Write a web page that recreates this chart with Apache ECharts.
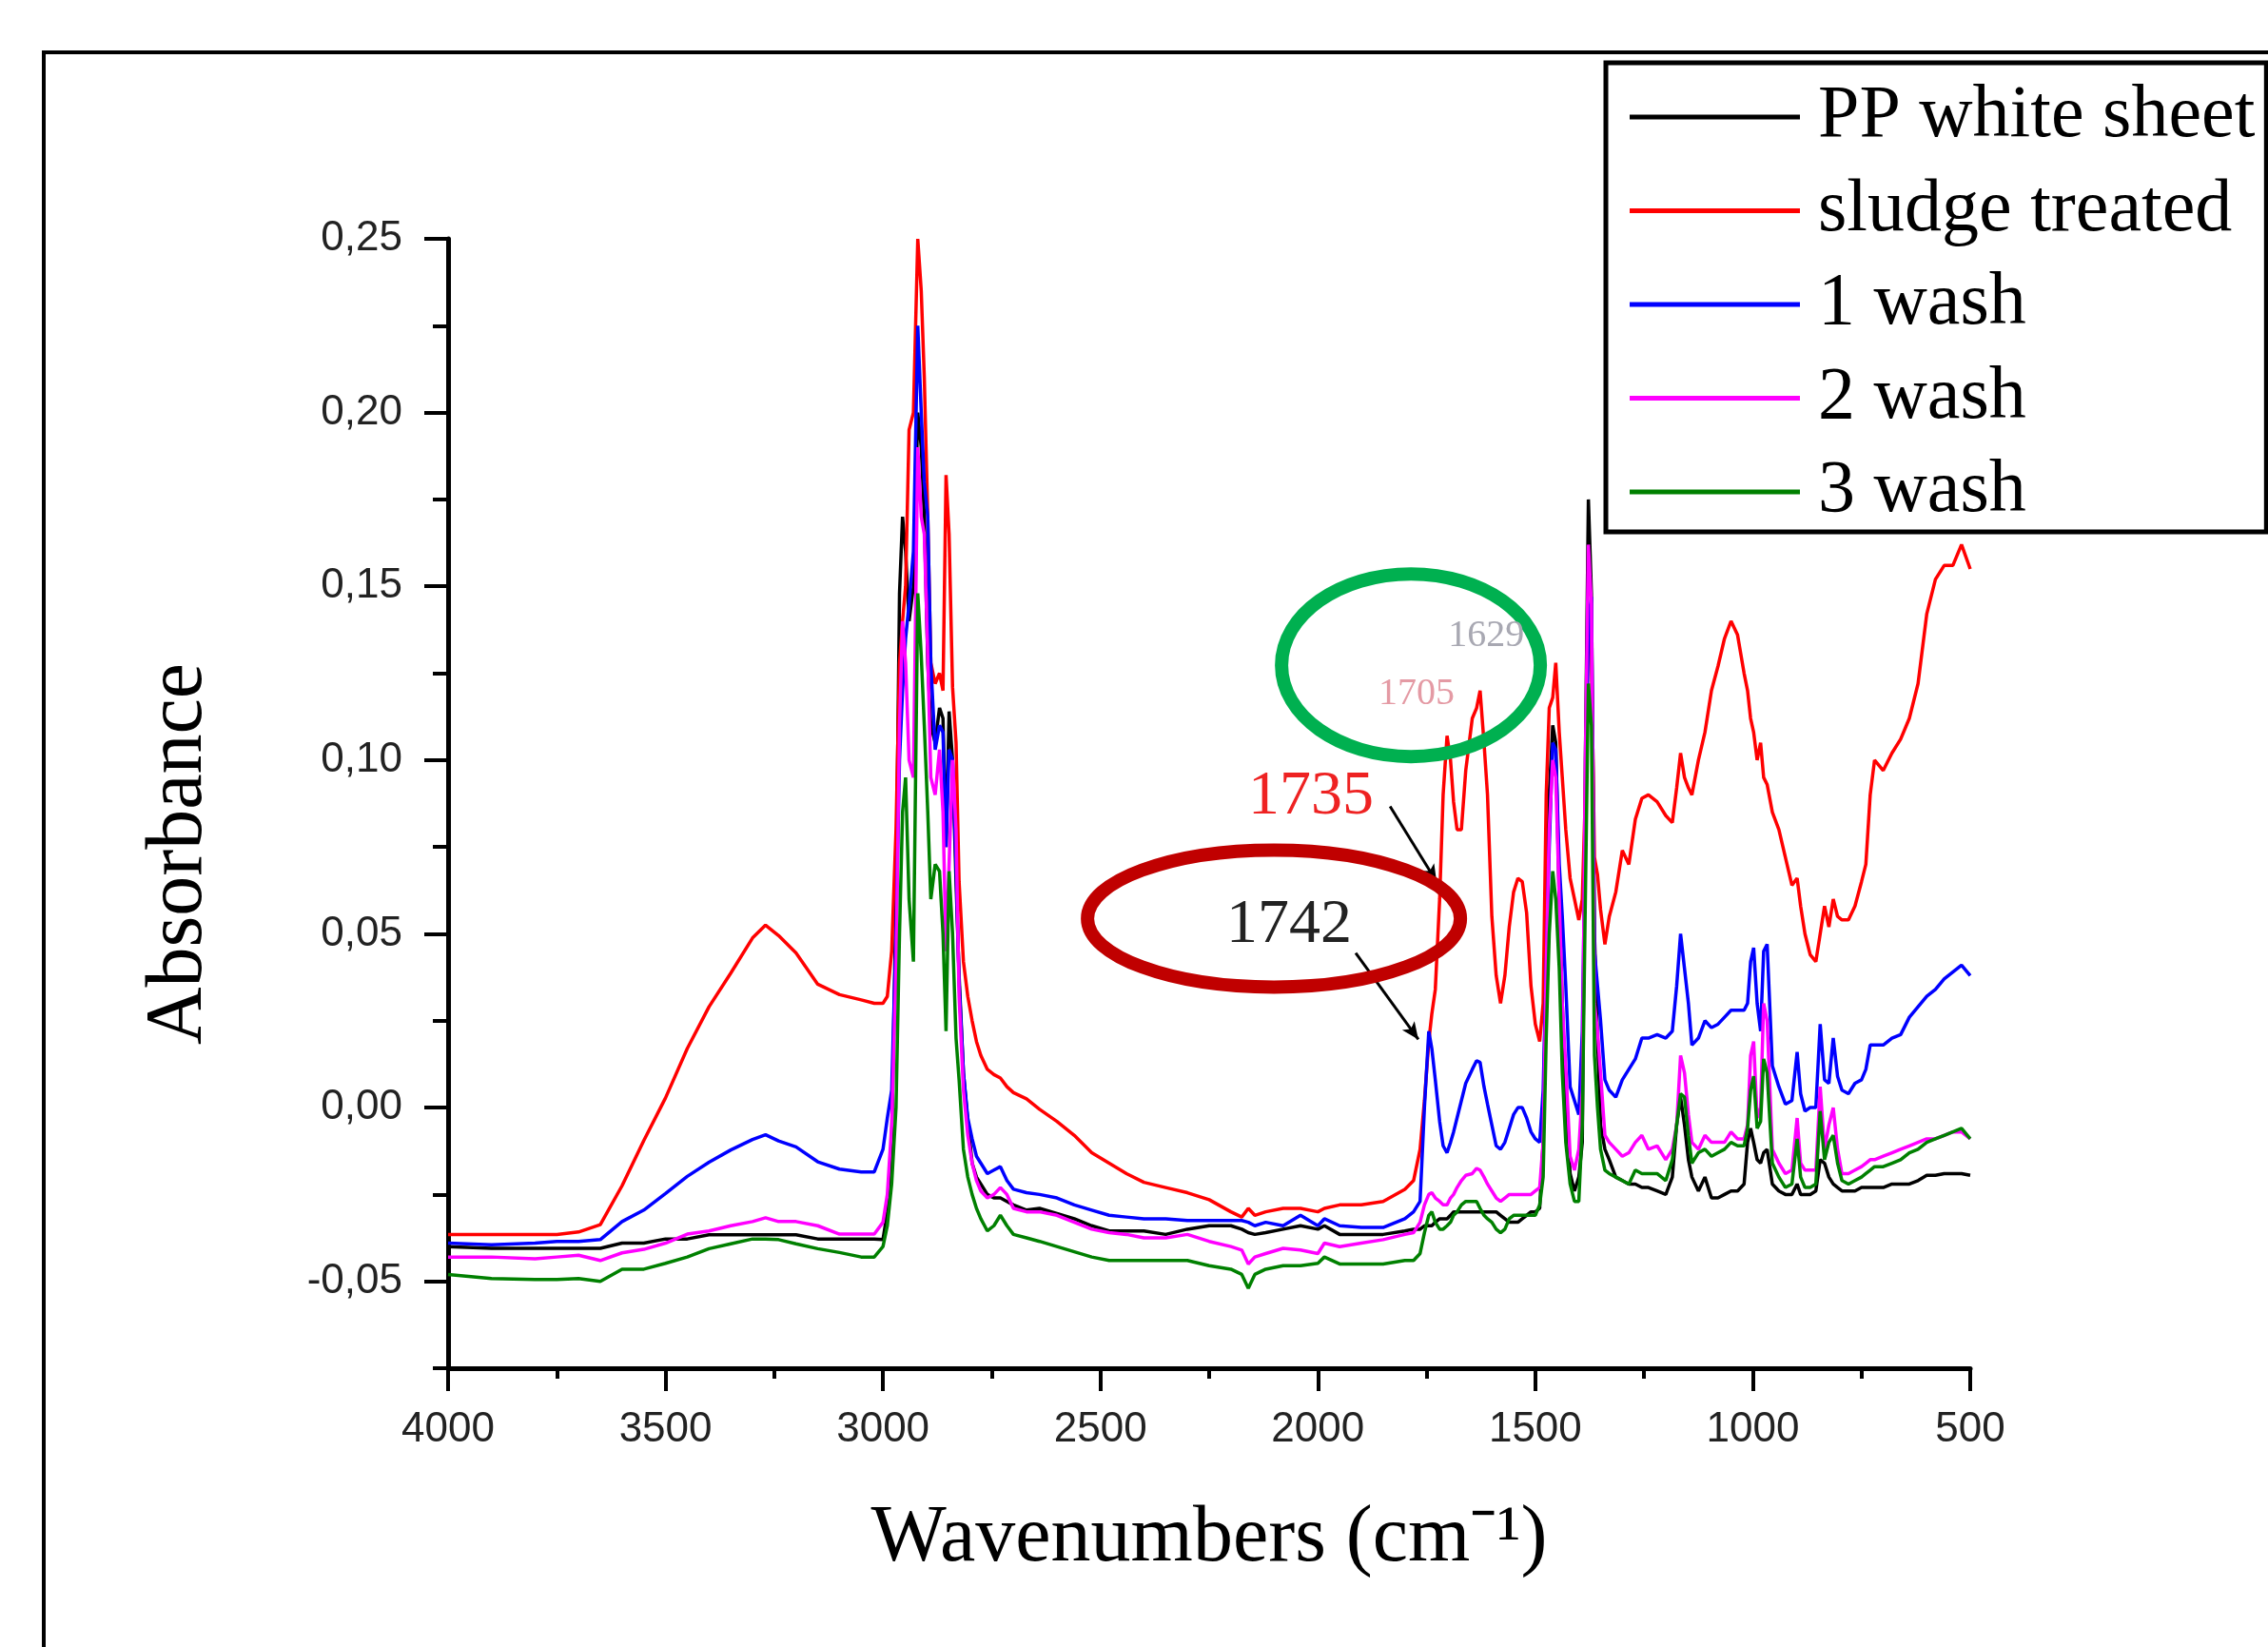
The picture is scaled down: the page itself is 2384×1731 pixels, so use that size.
<!DOCTYPE html>
<html>
<head>
<meta charset="utf-8">
<title>FTIR spectra</title>
<script src="https://cdn.jsdelivr.net/npm/echarts@6/dist/echarts.min.js"></script>
<style>
  html, body { margin: 0; padding: 0; background: #fff; }
  #main { width: 2384px; height: 1731px; }
</style>
</head>
<body>
<div id="main"></div>
<script>
// wavenumber grid (cm-1), shared by the five spectra
var wavenumbers = [
  4000, 3900, 3800, 3750, 3700, 3650, 3600, 3550, 3500, 3450, 3400, 3350, 3300, 3270, 3240, 3200, 3150, 3100, 3050, 3020,
  3000, 2990, 2980, 2970, 2962, 2955, 2948, 2940, 2930, 2920, 2912, 2905, 2897, 2890, 2880, 2870, 2862, 2855, 2848, 2840, 2832, 2825, 2815, 2805, 2795, 2785, 2775, 2760,
  2745, 2730, 2715, 2700, 2670, 2640, 2600, 2560, 2520, 2480, 2440, 2400, 2350, 2300, 2250, 2200, 2175, 2160, 2145, 2120, 2080, 2040, 2000, 1985, 1950, 1900, 1850, 1800,
  1780, 1765, 1755, 1745, 1738, 1730, 1720, 1712, 1703, 1695, 1688, 1680, 1670, 1660, 1645, 1635, 1627, 1618, 1610, 1600, 1590,
  1580, 1570, 1560, 1550, 1540, 1530, 1520, 1510, 1500, 1490, 1482, 1475, 1468, 1460, 1453, 1445, 1438, 1430, 1420, 1410, 1400,
  1392, 1385, 1378, 1371, 1364, 1357, 1350, 1340, 1330, 1315, 1300,
  1285, 1270, 1255, 1240, 1220, 1200, 1185, 1175, 1166, 1157,
  1148, 1140, 1125, 1110, 1095, 1080, 1065, 1050, 1035, 1020,
  1012, 1005, 998, 990, 982, 975, 967, 955, 940, 925,
  910, 898, 890, 880, 868, 855, 845, 835, 825, 815,
  805, 795, 780, 765, 750, 740, 730, 720, 700, 680,
  660, 640, 620, 600, 580, 560, 540, 520, 500
];

var ppWhiteSheet = [
  -0.040, -0.0405, -0.0405, -0.0405, -0.0405, -0.0405, -0.039, -0.039, -0.0378, -0.0378, -0.0366, -0.0366, -0.0366, -0.0366, -0.0366, -0.0366, -0.0378, -0.0378, -0.0378, -0.0378,
  -0.038, -0.030, -0.010, 0.060, 0.148, 0.170, 0.160, 0.140, 0.150, 0.200, 0.190, 0.170, 0.128, 0.110, 0.105, 0.115, 0.112, 0.075, 0.114, 0.100, 0.065, 0.038, 0.010, -0.004, -0.016, -0.020, -0.022, -0.025,
  -0.026, -0.026, -0.027, -0.028, -0.0295, -0.029, -0.0305, -0.032, -0.034, -0.0355, -0.0355, -0.0355, -0.0365, -0.035, -0.034, -0.034, -0.035, -0.036, -0.0365, -0.036, -0.035, -0.034, -0.035, -0.034, -0.0365, -0.0365, -0.0365, -0.0355,
  -0.035, -0.035, -0.034, -0.034, -0.034, -0.033, -0.032, -0.032, -0.032, -0.031, -0.030, -0.030, -0.030, -0.030, -0.030, -0.030, -0.030, -0.030, -0.030, -0.030, -0.030,
  -0.031, -0.032, -0.033, -0.033, -0.033, -0.032, -0.031, -0.030, -0.030, -0.029, -0.010, 0.050, 0.090, 0.110, 0.105, 0.060, 0.030, 0.000, -0.019, -0.024, -0.020,
  -0.010, 0.100, 0.175, 0.148, 0.050, 0.020, -0.005, -0.012, -0.015, -0.020, -0.021,
  -0.022, -0.022, -0.023, -0.023, -0.024, -0.025, -0.020, -0.005, 0.003, -0.005,
  -0.015, -0.020, -0.024, -0.020, -0.026, -0.026, -0.025, -0.024, -0.024, -0.022,
  -0.010, -0.006, -0.010, -0.015, -0.016, -0.013, -0.012, -0.022, -0.024, -0.025,
  -0.025, -0.022, -0.025, -0.025, -0.025, -0.024, -0.015, -0.016, -0.020, -0.022,
  -0.023, -0.024, -0.024, -0.024, -0.023, -0.023, -0.023, -0.023, -0.023, -0.022,
  -0.022, -0.022, -0.021, -0.0195, -0.0195, -0.019, -0.019, -0.019, -0.0195
];

var sludgeTreated = [
  -0.0365, -0.0365, -0.0365, -0.0365, -0.0358, -0.0337, -0.0225, -0.0095, 0.0028, 0.017, 0.029, 0.0387, 0.0488, 0.0525, 0.0495, 0.0445, 0.0355, 0.0325, 0.031, 0.030,
  0.030, 0.032, 0.045, 0.080, 0.128, 0.140, 0.150, 0.195, 0.200, 0.250, 0.235, 0.210, 0.170, 0.128, 0.122, 0.125, 0.120, 0.182, 0.165, 0.121, 0.105, 0.065, 0.042, 0.032, 0.025, 0.019, 0.015, 0.011,
  0.0095, 0.0085, 0.006, 0.0043, 0.0025, -0.0005, -0.004, -0.008, -0.013, -0.016, -0.019, -0.0215, -0.023, -0.0245, -0.0265, -0.030, -0.0315, -0.029, -0.031, -0.030, -0.029, -0.029, -0.030, -0.029, -0.028, -0.028, -0.027, -0.0235,
  -0.021, -0.012, 0.002, 0.019, 0.027, 0.034, 0.060, 0.090, 0.107, 0.100, 0.088, 0.080, 0.080, 0.097, 0.112, 0.115, 0.120, 0.105, 0.090, 0.055, 0.038,
  0.030, 0.038, 0.052, 0.062, 0.066, 0.065, 0.056, 0.035, 0.024, 0.019, 0.030, 0.090, 0.115, 0.118, 0.128, 0.108, 0.095, 0.080, 0.066, 0.060, 0.054,
  0.060, 0.090, 0.140, 0.130, 0.072, 0.067, 0.057, 0.047, 0.055, 0.062, 0.074,
  0.070, 0.083, 0.089, 0.090, 0.088, 0.084, 0.082, 0.092, 0.102, 0.095,
  0.092, 0.090, 0.100, 0.108, 0.120, 0.127, 0.135, 0.140, 0.136, 0.125,
  0.120, 0.112, 0.108, 0.100, 0.105, 0.095, 0.093, 0.085, 0.080, 0.072,
  0.064, 0.066, 0.058, 0.050, 0.044, 0.042, 0.050, 0.058, 0.052, 0.060,
  0.055, 0.054, 0.054, 0.058, 0.065, 0.070, 0.090, 0.100, 0.097, 0.102,
  0.106, 0.112, 0.122, 0.142, 0.152, 0.156, 0.156, 0.162, 0.155
];

var wash1 = [
  -0.039, -0.0395, -0.039, -0.0385, -0.0385, -0.038, -0.0328, -0.0295, -0.0247, -0.0198, -0.0157, -0.0122, -0.0092, -0.0078, -0.0096, -0.0113, -0.0156, -0.0177, -0.0185, -0.0185,
  -0.012, -0.003, 0.005, 0.050, 0.100, 0.120, 0.135, 0.145, 0.160, 0.225, 0.200, 0.180, 0.170, 0.128, 0.103, 0.110, 0.108, 0.075, 0.103, 0.100, 0.070, 0.036, 0.010, -0.003, -0.009, -0.014, -0.016, -0.019,
  -0.018, -0.017, -0.021, -0.0235, -0.0245, -0.025, -0.026, -0.028, -0.0295, -0.031, -0.0315, -0.032, -0.032, -0.0325, -0.0325, -0.0325, -0.0325, -0.033, -0.034, -0.033, -0.034, -0.031, -0.034, -0.032, -0.034, -0.0345, -0.0345, -0.032,
  -0.030, -0.027, 0.000, 0.022, 0.017, 0.008, -0.004, -0.011, -0.013, -0.010, -0.007, -0.003, 0.002, 0.007, 0.011, 0.0135, 0.013, 0.006, 0.001, -0.005, -0.011,
  -0.012, -0.010, -0.006, -0.002, 0.000, 0.000, -0.003, -0.007, -0.009, -0.010, 0.005, 0.040, 0.075, 0.105, 0.103, 0.070, 0.055, 0.035, 0.006, 0.002, -0.002,
  0.022, 0.080, 0.140, 0.147, 0.045, 0.035, 0.025, 0.008, 0.005, 0.003, 0.008,
  0.011, 0.014, 0.020, 0.020, 0.021, 0.020, 0.022, 0.035, 0.050, 0.040,
  0.030, 0.018, 0.020, 0.025, 0.023, 0.024, 0.026, 0.028, 0.028, 0.028,
  0.030, 0.042, 0.046, 0.030, 0.022, 0.045, 0.047, 0.012, 0.006, 0.001,
  0.002, 0.016, 0.004, -0.001, 0.000, 0.000, 0.024, 0.008, 0.007, 0.020,
  0.009, 0.005, 0.004, 0.007, 0.008, 0.011, 0.018, 0.018, 0.018, 0.020,
  0.021, 0.026, 0.029, 0.032, 0.034, 0.037, 0.039, 0.041, 0.038
];

var wash2 = [
  -0.043, -0.043, -0.0435, -0.043, -0.0425, -0.044, -0.0418, -0.0408, -0.039, -0.0364, -0.0355, -0.034, -0.0328, -0.0317, -0.0328, -0.0328, -0.034, -0.0364, -0.0364, -0.0364,
  -0.033, -0.025, -0.005, 0.040, 0.110, 0.140, 0.128, 0.100, 0.095, 0.190, 0.170, 0.165, 0.130, 0.095, 0.090, 0.103, 0.085, 0.045, 0.070, 0.100, 0.080, 0.032, 0.005, -0.008, -0.016, -0.021, -0.024, -0.026,
  -0.025, -0.023, -0.025, -0.029, -0.030, -0.030, -0.031, -0.033, -0.035, -0.036, -0.0365, -0.0375, -0.0375, -0.0365, -0.0385, -0.040, -0.041, -0.045, -0.043, -0.042, -0.0405, -0.041, -0.042, -0.039, -0.040, -0.039, -0.038, -0.0365,
  -0.036, -0.033, -0.028, -0.025, -0.0245, -0.026, -0.027, -0.028, -0.028, -0.026, -0.025, -0.023, -0.021, -0.0195, -0.019, -0.0175, -0.018, -0.020, -0.022, -0.024, -0.026,
  -0.027, -0.026, -0.025, -0.025, -0.025, -0.025, -0.025, -0.025, -0.024, -0.023, -0.010, 0.040, 0.080, 0.100, 0.095, 0.060, 0.030, 0.012, -0.014, -0.018, -0.012,
  0.005, 0.100, 0.162, 0.145, 0.030, 0.022, 0.010, -0.008, -0.010, -0.012, -0.014,
  -0.013, -0.010, -0.008, -0.012, -0.011, -0.015, -0.012, -0.005, 0.015, 0.010,
  -0.002, -0.010, -0.012, -0.008, -0.010, -0.010, -0.010, -0.007, -0.009, -0.009,
  -0.005, 0.015, 0.019, -0.003, 0.000, 0.030, 0.025, -0.012, -0.016, -0.019,
  -0.018, -0.003, -0.016, -0.018, -0.018, -0.018, 0.006, -0.012, -0.005, 0.000,
  -0.012, -0.019, -0.019, -0.018, -0.017, -0.016, -0.015, -0.015, -0.014, -0.013,
  -0.012, -0.011, -0.010, -0.009, -0.009, -0.008, -0.007, -0.007, -0.009
];

var wash3 = [
  -0.048, -0.0492, -0.0495, -0.0495, -0.0492, -0.050, -0.0465, -0.0465, -0.0448, -0.043, -0.0406, -0.0392, -0.0378, -0.0378, -0.038, -0.0392, -0.0406, -0.0417, -0.043, -0.043,
  -0.040, -0.034, -0.022, 0.000, 0.050, 0.085, 0.095, 0.060, 0.042, 0.148, 0.130, 0.110, 0.085, 0.060, 0.070, 0.068, 0.050, 0.022, 0.068, 0.050, 0.020, 0.008, -0.012, -0.020, -0.025, -0.029, -0.032, -0.0355,
  -0.034, -0.031, -0.034, -0.0365, -0.0375, -0.0385, -0.040, -0.0415, -0.043, -0.044, -0.044, -0.044, -0.044, -0.044, -0.0455, -0.0465, -0.048, -0.052, -0.048, -0.0465, -0.0455, -0.0455, -0.0448, -0.043, -0.045, -0.045, -0.045, -0.044,
  -0.044, -0.042, -0.036, -0.031, -0.030, -0.033, -0.035, -0.035, -0.034, -0.033, -0.031, -0.030, -0.028, -0.027, -0.027, -0.027, -0.029, -0.031, -0.032, -0.033, -0.035,
  -0.036, -0.035, -0.032, -0.031, -0.031, -0.031, -0.031, -0.031, -0.031, -0.028, -0.020, 0.020, 0.050, 0.068, 0.060, 0.040, 0.010, -0.010, -0.022, -0.027, -0.027,
  -0.005, 0.060, 0.122, 0.110, 0.015, 0.000, -0.012, -0.018, -0.019, -0.020, -0.021,
  -0.022, -0.018, -0.019, -0.019, -0.019, -0.021, -0.015, -0.005, 0.004, 0.003,
  -0.008, -0.016, -0.013, -0.012, -0.014, -0.013, -0.012, -0.010, -0.011, -0.011,
  -0.006, 0.005, 0.009, -0.006, -0.004, 0.014, 0.010, -0.016, -0.020, -0.023,
  -0.022, -0.009, -0.020, -0.023, -0.023, -0.022, -0.001, -0.015, -0.010, -0.008,
  -0.016, -0.021, -0.022, -0.021, -0.020, -0.019, -0.018, -0.017, -0.017, -0.016,
  -0.015, -0.013, -0.012, -0.010, -0.009, -0.008, -0.007, -0.006, -0.009
];

var seriesNames = ['PP white sheet', 'sludge treated', '1 wash', '2 wash', '3 wash'];
var seriesColors = ['#000000', '#ff0000', '#0000ff', '#ff00ff', '#008000'];
var seriesValues = [ppWhiteSheet, sludgeTreated, wash1, wash2, wash3];

// y tick labels (long ticks) and the short ticks in between
var yTickValues = [-0.05, 0, 0.05, 0.10, 0.15, 0.20, 0.25];
var yMinorValues = [-0.075, -0.025, 0.025, 0.075, 0.125, 0.175, 0.225];

// annotations, placed in data coordinates
var bandLabels = [
  { text: '1742', wn: 2066, a: 0.0525, color: '#222222', size: 66 },
  { text: '1735', wn: 2016, a: 0.0894, color: '#ee2222', size: 66 },
  { text: '1705', wn: 1773, a: 0.119, color: '#e49aa4', size: 40 },
  { text: '1629', wn: 1613, a: 0.1358, color: '#a8a8b2', size: 40 }
];
var rings = [
  { wn: 1786, a: 0.1273, rx: 136, ry: 96, color: '#00b050' },
  { wn: 2101, a: 0.0544, rx: 196, ry: 72, color: '#c00000' }
];
var arrows = [
  { from: [1834, 0.0867], to: [1727, 0.065] },
  { from: [1913, 0.0445], to: [1769, 0.0196] }
];

function pairs(values) {
  return wavenumbers.map(function (w, i) { return [w, values[i]]; });
}

var chart = echarts.init(document.getElementById('main'));

var series = seriesNames.map(function (name, k) {
  return {
    name: name,
    type: 'line',
    data: pairs(seriesValues[k]),
    symbol: 'none',
    color: seriesColors[k],
    lineStyle: { color: seriesColors[k], width: 3.5 },
    emphasis: { disabled: true },
    animation: false
  };
});

// arrows pointing at the carbonyl bands
series[0].markLine = {
  silent: true,
  animation: false,
  symbol: ['none', 'arrow'],
  symbolSize: [12, 18],
  lineStyle: { color: '#000', width: 3, type: 'solid' },
  label: { show: false },
  data: arrows.map(function (ar) {
    return [{ coord: ar.from }, { coord: ar.to }];
  })
};

var option = {
  backgroundColor: '#fff',
  animation: false,
  textStyle: { fontFamily: 'Liberation Sans' },
  grid: { left: 471, top: 251, width: 1600, height: 1187, containLabel: false },
  legend: {
    data: seriesNames.map(function (n) { return { name: n, icon: 'rect' }; }),
    orient: 'vertical',
    left: 1688,
    top: 66,
    padding: [17, 12, 2, 25],
    borderColor: '#000',
    borderWidth: 5,
    itemWidth: 179,
    itemHeight: 5,
    itemGap: 18.5,
    selectedMode: false,
    textStyle: {
      fontFamily: 'Liberation Serif',
      fontSize: 78,
      lineHeight: 80,
      color: '#000',
      padding: [0, 0, 0, 14]
    }
  },
  xAxis: {
    type: 'value',
    inverse: true,
    min: 500,
    max: 4000,
    interval: 500,
    axisLine: { show: true, onZero: false, lineStyle: { color: '#000', width: 5 } },
    axisTick: { show: true, length: 24, lineStyle: { color: '#000', width: 4 } },
    minorTick: { show: true, splitNumber: 2, length: 11, lineStyle: { color: '#000', width: 4 } },
    splitLine: { show: false },
    axisLabel: {
      margin: 43,
      fontFamily: 'Liberation Sans',
      fontSize: 44,
      color: '#222',
      formatter: function (v) { return String(v); }
    },
    name: 'Wavenumbers (cm\u207B\u00B9)',
    nameLocation: 'middle',
    nameGap: 138,
    nameTextStyle: { fontFamily: 'Liberation Serif', fontSize: 84, color: '#000' }
  },
  yAxis: [{
    type: 'value',
    min: -0.075,
    max: 0.25,
    position: 'left',
    axisLine: { show: true, onZero: false, lineStyle: { color: '#000', width: 5 } },
    axisTick: { show: true, length: 25, customValues: yTickValues, lineStyle: { color: '#000', width: 4 } },
    splitLine: { show: false },
    axisLabel: {
      customValues: yTickValues,
      margin: 48,
      fontFamily: 'Liberation Sans',
      fontSize: 44,
      color: '#222',
      formatter: function (v) { return v.toFixed(2).replace('.', ','); }
    },
    name: 'Absorbance',
    nameLocation: 'middle',
    nameGap: 240,
    nameTextStyle: { fontFamily: 'Liberation Serif', fontSize: 84, color: '#000', padding: [0, 106, 0, 0] }
  }, {
    // short ticks halfway between the labelled ones
    type: 'value',
    min: -0.075,
    max: 0.25,
    position: 'left',
    offset: 0,
    axisLine: { show: false, onZero: false },
    axisTick: { show: true, length: 16, customValues: yMinorValues, lineStyle: { color: '#000', width: 4 } },
    axisLabel: { show: false },
    splitLine: { show: false }
  }],
  graphic: [{
    // outer frame, cut off at the right and bottom
    type: 'rect',
    shape: { x: 46, y: 55, width: 2400, height: 1800 },
    style: { fill: 'none', stroke: '#000', lineWidth: 4 },
    silent: true,
    z: 1
  }],
  series: series
};

chart.setOption(option);

// circles and band numbers, converted from data coordinates
var extras = [];
rings.forEach(function (r) {
  var p = chart.convertToPixel({ seriesIndex: 0 }, [r.wn, r.a]);
  extras.push({
    type: 'ellipse',
    shape: { cx: p[0], cy: p[1], rx: r.rx, ry: r.ry },
    style: { fill: 'none', stroke: r.color, lineWidth: 14 },
    silent: true,
    z: 100
  });
});
bandLabels.forEach(function (b) {
  var p = chart.convertToPixel({ seriesIndex: 0 }, [b.wn, b.a]);
  extras.push({
    type: 'text',
    x: p[0],
    y: p[1],
    style: {
      text: b.text,
      fill: b.color,
      font: b.size + 'px "Liberation Serif"',
      align: 'center',
      verticalAlign: 'middle'
    },
    silent: true,
    z: 100
  });
});
chart.setOption({ graphic: option.graphic.concat(extras) });
</script>
</body>
</html>
